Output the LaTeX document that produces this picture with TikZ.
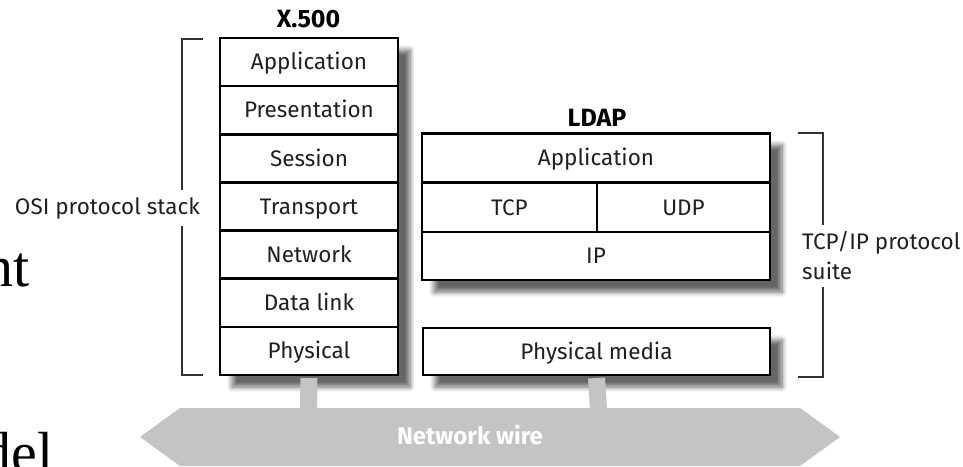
\documentclass[tikz,border=0pt]{standalone}
\usepackage{fontspec}
\setsansfont{Fira Sans}
\newfontfamily\slideserif{Liberation Serif}
\usetikzlibrary{shadows.blur}

\definecolor{wiregray}{HTML}{C4C4C4}
\definecolor{bracketgray}{HTML}{333333}
\definecolor{labelink}{HTML}{202020}

\begin{document}
\begin{tikzpicture}[x=1pt,y=-1pt,
  lbl/.style={font=\sffamily\fontsize{22.5}{30}\selectfont, text=labelink},
  title/.style={font=\sffamily\bfseries\fontsize{25}{28}\selectfont, text=black},
  layer/.style={draw=black, line width=2.6pt, fill=white, lbl, inner sep=0pt,
    text height=17pt, text depth=1.5pt},
  osirow/.style={layer, minimum width=178pt, minimum height=48.14pt},
  frame/.style={draw=black, line width=2.6pt, fill=white, inner sep=0pt,
    blur shadow={shadow xshift=12pt, shadow yshift=-12pt,
      shadow blur radius=5pt, shadow blur steps=8, shadow opacity=60}},
  bracket/.style={draw=bracketgray, line width=1.4pt},
  stem/.style={draw=wiregray, line width=17pt},
  slidetext/.style={font=\slideserif\fontsize{58}{64}\selectfont, inner sep=0pt}
]
\useasboundingbox (0,0) rectangle (963,466);

% cropped slide text on the left edge
\node[slidetext, anchor=base east] (slideA) at (30,286) {nt};
\node[slidetext, anchor=base east] (slideB) at (54,472) {del};

% network wire (double-headed band)
\fill[wiregray] (140,437) -- (180,408) -- (800,408) -- (840,437)
  -- (800,466) -- (180,466) -- cycle;
\coordinate (wireA) at (308.5,409);
\coordinate (wireB) at (598.5,409);
\node[font=\sffamily\bfseries\fontsize{24}{26}\selectfont, text=white]
  (wirelabel) at (470,435) {Network wire};

% X.500 / OSI stack
\node[frame, minimum width=178pt, minimum height=337pt] (osi) at (309,206.5) {};
\node[osirow] (app)   at (309,62.07)  {Application};
\node[osirow] (pres)  at (309,110.21) {Presentation};
\node[osirow] (sess)  at (309,158.36) {Session};
\node[osirow] (trans) at (309,206.5)  {Transport};
\node[osirow] (net)   at (309,254.64) {Network};
\node[osirow] (dlink) at (309,302.79) {Data link};
\node[osirow] (phys)  at (309,350.93) {Physical};
\node[title] (x500) at (308.5,19) {X.500};

% LDAP / TCP-IP stack
\node[frame, minimum width=348pt, minimum height=147pt] (tcpip) at (596,206.5) {};
\node[layer, minimum width=348pt, minimum height=49pt] (lapp) at (596,158) {Application};
\node[layer, minimum width=175pt, minimum height=49pt] (tcp)  at (509.5,207.5) {TCP};
\node[layer, minimum width=173pt, minimum height=49pt] (udp)  at (683.5,207.5) {UDP};
\node[layer, minimum width=348pt, minimum height=48pt] (ip)   at (596,256) {IP};
\node[title] (ldap) at (597,118) {LDAP};

\node[frame, lbl, text height=17pt, text depth=1.5pt,
  minimum width=347pt, minimum height=47pt] (media) at (596.5,351.5) {Physical media};

% stems down to the wire
\draw[stem] (phys.south |- 0,378) -- (wireA);
\draw[stem] (media.south |- 0,378) -- (wireB);

% OSI bracket
\node[lbl, anchor=east, inner sep=0pt] (osilabel) at (200,208) {OSI protocol stack};
\draw[bracket] (203,39) -- (182,39) -- (182,190);
\draw[bracket] (182,226) -- (182,375) -- (203,375);

% TCP/IP bracket
\node[lbl, anchor=west, align=left, inner sep=0pt] (tcpiplabel) at (802,256)
  {TCP/IP protocol\\suite};
\draw[bracket] (798,133) -- (823,133) -- (823,225);
\draw[bracket] (823,287) -- (823,377) -- (798,377);
\end{tikzpicture}
\end{document}
